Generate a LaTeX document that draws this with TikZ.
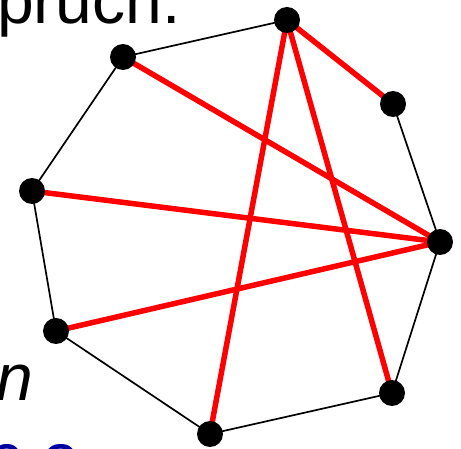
\documentclass[tikz,border=0pt]{standalone}
\usepackage{fontspec}
\setmainfont{Liberation Sans}
\definecolor{navy}{RGB}{0,0,160}
\begin{document}
\begin{tikzpicture}[x=1pt,y=-1pt,
  vtx/.style={circle,fill=black,inner sep=0pt,minimum size=26pt},
  thin edge/.style={draw=black,line width=1.7pt},
  red edge/.style={draw=red,line width=5.5pt},
  big/.style={inner sep=0pt,font=\fontsize{66}{78}\selectfont}]
\useasboundingbox (0,0) rectangle (461,449);
\node[big,anchor=base west] (t1) at (-36,24) {spruch.};
\node[big,anchor=base east] (t2) at (33,400) {\itshape n};
\node[big,anchor=base west,text=navy] (t3) at (-13,490) {6 2};
\coordinate (v1) at (287,20);
\coordinate (v2) at (123,57);
\coordinate (v3) at (393,104);
\coordinate (v4) at (32,191);
\coordinate (v5) at (440,242);
\coordinate (v6) at (56,331);
\coordinate (v7) at (392,393);
\coordinate (v8) at (210,434);
\draw[thin edge] (v1) -- (v2) -- (v4) -- (v6) -- (v8) -- (v7) -- (v5) -- (v3);
\draw[red edge] (v1) -- (v3);
\draw[red edge] (v1) -- (v8);
\draw[red edge] (v1) -- (v7);
\draw[red edge] (v2) -- (v5);
\draw[red edge] (v4) -- (v5);
\draw[red edge] (v6) -- (v5);
\foreach \i in {1,...,8} \node[vtx] (n\i) at (v\i) {};
\end{tikzpicture}
\end{document}
